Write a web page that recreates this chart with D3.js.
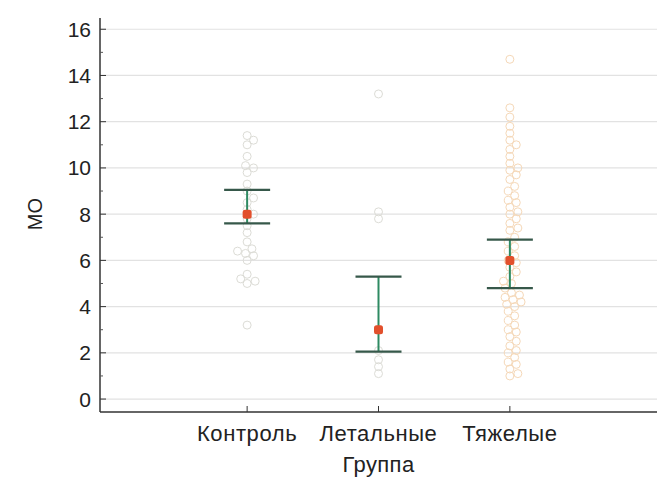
<!DOCTYPE html>
<html>
<head>
<meta charset="utf-8">
<script src="https://cdn.jsdelivr.net/npm/d3@7"></script>
<style>
  body { margin: 0; background: #fff; }
  svg { display: block; font-family: "Liberation Sans", Arial, sans-serif; }
</style>
</head>
<body>
<div id="chart"></div>
<script>
// Groups and their values
const groups = ["Контроль", "Летальные", "Тяжелые"];
const controlValues = [11.4, 11.2, 11.0, 10.5, 10.1, 10.0, 9.8, 9.3, 9.0, 8.7, 8.5, 8.2, 8.0, 7.8, 7.5, 7.2,
  6.8, 6.5, 6.4, 6.3, 6.2, 6.0, 5.4, 5.2, 5.1, 5.0, 3.2];
const lethalValues = [13.2, 8.1, 7.8, 3.0, 2.1, 1.7, 1.4, 1.1];
const severeValues = [14.7, 12.6, 12.2, 11.8, 11.5, 11.2, 11.0, 10.8, 10.5, 10.2, 10.0, 9.9, 9.7, 9.5, 9.2,
  9.0, 8.8, 8.6, 8.5, 8.3, 8.1, 8.0, 7.8, 7.6, 7.4, 7.3, 7.0, 6.8, 6.6, 6.4, 6.2, 6.0, 5.9, 5.7, 5.5,
  5.3, 5.1, 5.0, 4.8, 4.6, 4.5, 4.4, 4.3, 4.2, 4.1, 4.0, 3.8, 3.6, 3.4, 3.2, 3.0, 2.9, 2.7, 2.5, 2.3,
  2.1, 2.0, 1.8, 1.6, 1.5, 1.3, 1.1, 1.0];
const centers = [8.0, 3.0, 6.0];        // mean marker
const ciLow = [7.6, 2.05, 4.8];
const ciHigh = [9.05, 5.3, 6.9];
const yTicks = [0, 2, 4, 6, 8, 10, 12, 14, 16];
const yMinor = [1, 3, 5, 7, 9, 11, 13, 15];

const width = 662, height = 480;
const margin = {left: 100, right: 5, top: 20, bottom: 68};
const fontSize = 22;

const svg = d3.select("#chart").append("svg")
    .attr("width", width)
    .attr("height", height);

const x = d3.scalePoint()
    .domain(groups)
    .range([margin.left, width - margin.right])
    .padding(1.12);

const y = d3.scaleLinear()
    .domain([-0.56, 16.4])
    .range([height - margin.bottom, margin.top]);

// grid lines
svg.append("g")
  .selectAll("line")
  .data(yTicks)
  .join("line")
    .attr("x1", margin.left)
    .attr("x2", width - margin.right)
    .attr("y1", d => y(d))
    .attr("y2", d => y(d))
    .attr("stroke", "#e2e2e2")
    .attr("stroke-width", 1.2);

// simple beeswarm layout for each group
const r = 4;
function swarm(values, cx) {
  const placed = [];
  values.slice().sort((a, b) => a - b).forEach(v => {
    const py = y(v);
    let best = 0;
    for (let k = 0; k < 40; k++) {
      const off = k === 0 ? 0 : Math.ceil(k / 2) * (k % 2 ? 1 : -1) * 1.6;
      const ok = placed.every(p => (p.x - (cx + off)) ** 2 + (p.y - py) ** 2 >= (2 * r) ** 2 * 0.75);
      if (ok) { best = off; break; }
    }
    placed.push({x: cx + best, y: py});
  });
  return placed;
}

const pointColors = ["#dcdcd6", "#dcdcd6", "#f5d8b8"];
[controlValues, lethalValues, severeValues].forEach((vals, i) => {
  svg.append("g")
    .selectAll("circle")
    .data(swarm(vals, x(groups[i])))
    .join("circle")
      .attr("cx", d => d.x)
      .attr("cy", d => d.y)
      .attr("r", r)
      .attr("fill", "none")
      .attr("stroke", pointColors[i])
      .attr("stroke-width", 1);
});

// error bars
const bars = svg.append("g")
  .selectAll("g")
  .data(groups)
  .join("g");

bars.append("line")
    .attr("x1", d => x(d))
    .attr("x2", d => x(d))
    .attr("y1", (d, i) => y(ciLow[i]))
    .attr("y2", (d, i) => y(ciHigh[i]))
    .attr("stroke", "#2e8a62")
    .attr("stroke-width", 2);

[ciLow, ciHigh].forEach(arr => {
  bars.append("line")
      .attr("x1", d => x(d) - 23)
      .attr("x2", d => x(d) + 23)
      .attr("y1", (d, i) => y(arr[i]))
      .attr("y2", (d, i) => y(arr[i]))
      .attr("stroke", "#36584a")
      .attr("stroke-width", 2.2);
});

bars.append("rect")
    .attr("x", d => x(d) - 4.5)
    .attr("y", (d, i) => y(centers[i]) - 4.5)
    .attr("width", 9)
    .attr("height", 9)
    .attr("rx", 2.5)
    .attr("fill", "#e2502c");

// y axis
const yAxis = svg.append("g")
    .attr("transform", `translate(${margin.left},0)`);
yAxis.append("line")
    .attr("x1", 0).attr("x2", 0)
    .attr("y1", margin.top - 2)
    .attr("y2", height - margin.bottom)
    .attr("stroke", "#333")
    .attr("stroke-width", 1.5);
yAxis.selectAll(".major")
  .data(yTicks)
  .join("line")
    .attr("x1", 0).attr("x2", 6)
    .attr("y1", d => y(d)).attr("y2", d => y(d))
    .attr("stroke", "#333");
yAxis.selectAll(".minor")
  .data(yMinor)
  .join("line")
    .attr("x1", 0).attr("x2", 3)
    .attr("y1", d => y(d)).attr("y2", d => y(d))
    .attr("stroke", "#555");
yAxis.selectAll("text")
  .data(yTicks)
  .join("text")
    .attr("x", -9)
    .attr("y", d => y(d))
    .attr("dy", "0.36em")
    .attr("text-anchor", "end")
    .attr("font-size", 21)
    .attr("fill", "#222")
    .text(d => d);

// x axis
const xAxis = svg.append("g")
    .attr("transform", `translate(0,${height - margin.bottom})`);
xAxis.append("line")
    .attr("x1", margin.left).attr("x2", width - margin.right)
    .attr("stroke", "#333")
    .attr("stroke-width", 1.5);
xAxis.selectAll(".tick")
  .data(groups)
  .join("line")
    .attr("x1", d => x(d)).attr("x2", d => x(d))
    .attr("y1", 0).attr("y2", -6)
    .attr("stroke", "#333");
xAxis.selectAll("text")
  .data(groups)
  .join("text")
    .attr("x", d => x(d))
    .attr("y", 29)
    .attr("text-anchor", "middle")
    .attr("font-size", fontSize)
    .attr("letter-spacing", 0.6)
    .attr("fill", "#222")
    .text(d => d);

// axis titles
svg.append("text")
    .attr("x", x(groups[1]))
    .attr("y", 472)
    .attr("text-anchor", "middle")
    .attr("font-size", fontSize)
    .attr("letter-spacing", 0.4)
    .attr("fill", "#222")
    .text("Группа");

svg.append("text")
    .attr("transform", `translate(42,${y(8)}) rotate(-90)`)
    .attr("text-anchor", "middle")
    .attr("font-size", 20)
    .attr("fill", "#222")
    .text("MO");
</script>
</body>
</html>
